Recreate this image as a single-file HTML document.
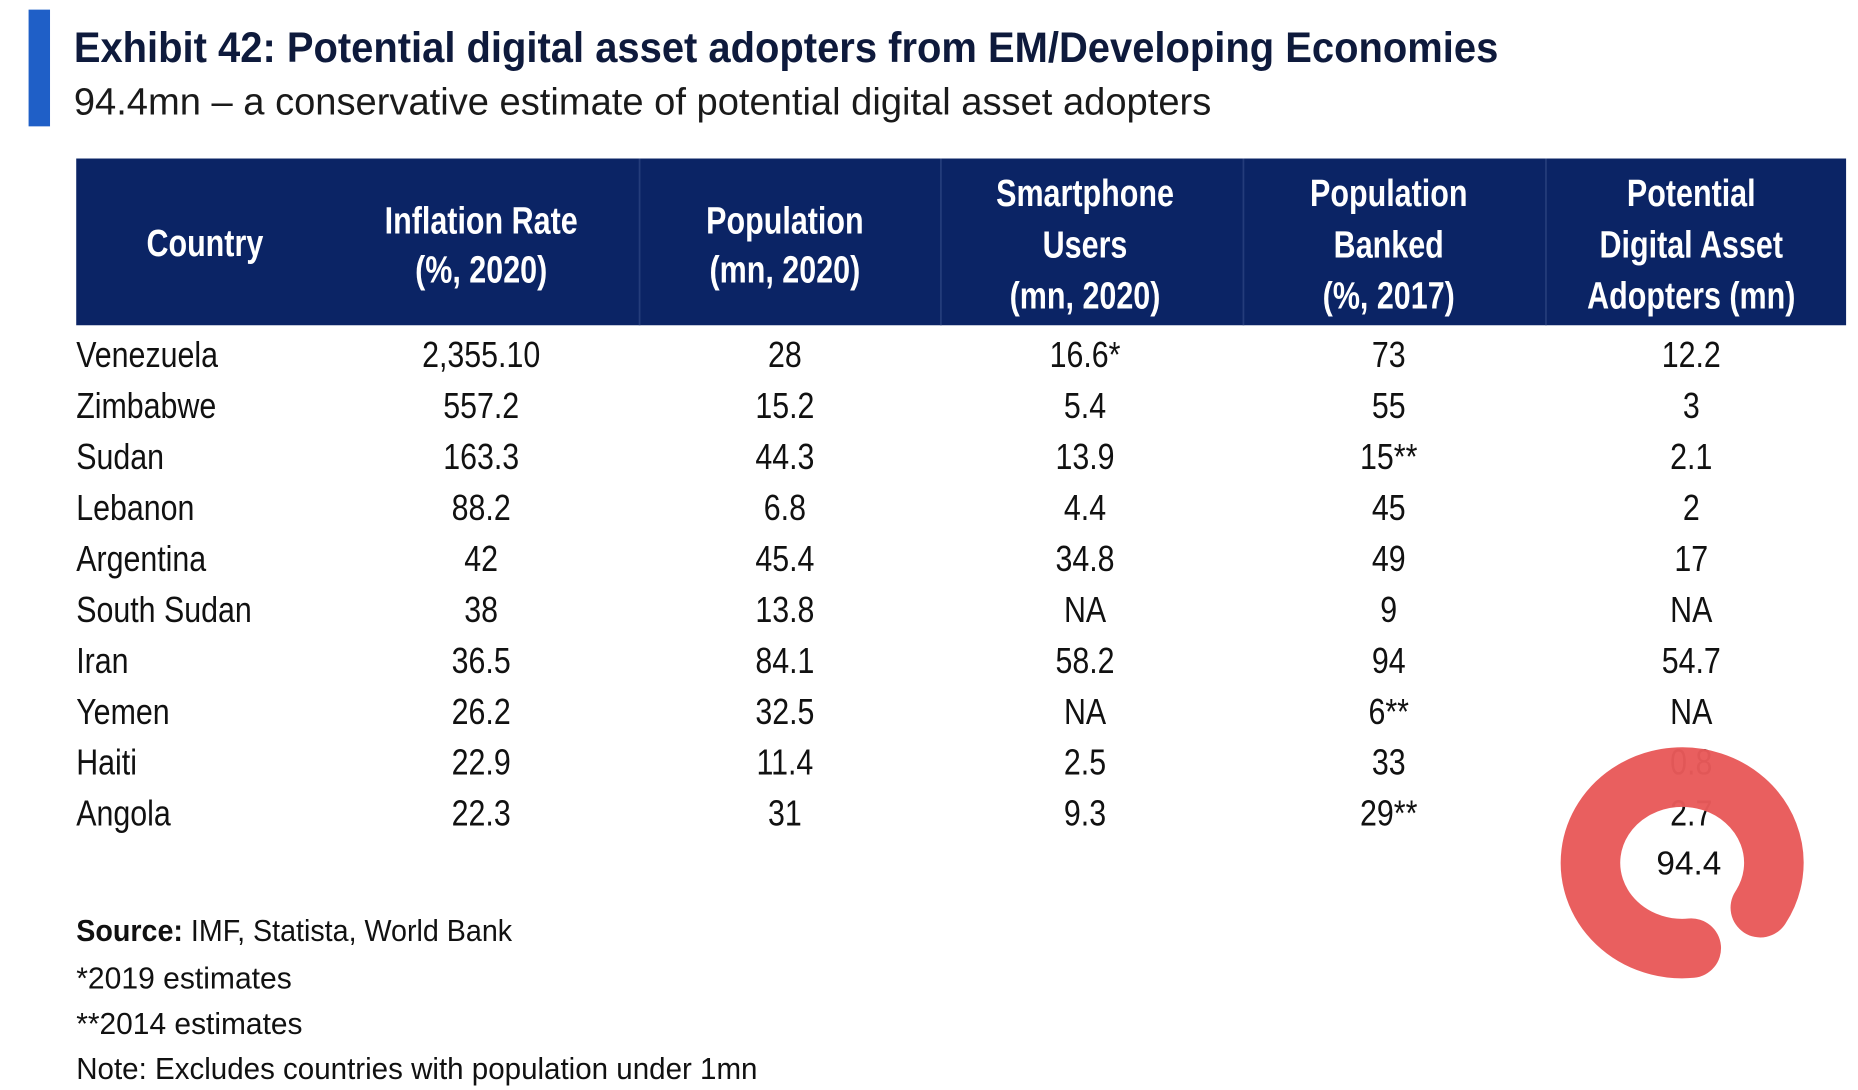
<!DOCTYPE html>
<html><head><meta charset="utf-8"><style>
html,body{margin:0;padding:0;background:#fff;}
svg{display:block;}
text{font-family:"Liberation Sans",sans-serif;}
</style></head><body>
<svg id="chart" width="1858" height="1090" viewBox="0 0 1560 915" xmlns="http://www.w3.org/2000/svg">
<rect x="24" y="8" width="18" height="98" fill="#1F5FC7"/>
<text x="62" y="52" font-size="36" font-weight="bold" fill="#0E1A3C" textLength="1196" lengthAdjust="spacingAndGlyphs">Exhibit 42: Potential digital asset adopters from EM/Developing Economies</text>
<text x="62" y="96" font-size="32" fill="#1a1a1a" textLength="955" lengthAdjust="spacingAndGlyphs">94.4mn – a conservative estimate of potential digital asset adopters</text>
<rect x="64" y="133" width="1486" height="140" fill="#0B2465"/>
<g id="hdr"></g>
<g id="rows"></g>
<g transform="translate(1418,724)"><text x="0" y="10" font-size="28" text-anchor="middle" fill="#111">94.4</text></g>
<path d="M 1478 762 A 77 72 0 1 0 1420 796" fill="none" stroke="#E85A5A" stroke-width="50" stroke-linecap="round" opacity="0.97"/>
<g>
<text x="64" y="790" font-size="26" fill="#111" textLength="366" lengthAdjust="spacingAndGlyphs"><tspan font-weight="bold">Source:</tspan> IMF, Statista, World Bank</text>
<text x="64" y="830" font-size="26" fill="#111" textLength="181" lengthAdjust="spacingAndGlyphs">*2019 estimates</text>
<text x="64" y="868" font-size="26" fill="#111" textLength="190" lengthAdjust="spacingAndGlyphs">**2014 estimates</text>
<text x="64" y="906" font-size="26" fill="#111" textLength="572" lengthAdjust="spacingAndGlyphs">Note: Excludes countries with population under 1mn</text>
</g>
</svg>
<script>
const headers = [["Country"],["Inflation Rate","(%, 2020)"],["Population","(mn, 2020)"],["Smartphone","Users","(mn, 2020)"],["Population","Banked","(%, 2017)"],["Potential","Digital Asset","Adopters (mn)"]];
const countries = ["Venezuela","Zimbabwe","Sudan","Lebanon","Argentina","South Sudan","Iran","Yemen","Haiti","Angola"];
const inflation = ["2,355.10","557.2","163.3","88.2","42","38","36.5","26.2","22.9","22.3"];
const population = ["28","15.2","44.3","6.8","45.4","13.8","84.1","32.5","11.4","31"];
const smartphone = ["16.6*","5.4","13.9","4.4","34.8","NA","58.2","NA","2.5","9.3"];
const banked = ["73","55","15**","45","49","9","94","6**","33","29**"];
const adopters = ["12.2","3","2.1","2","17","NA","54.7","NA","0.8","2.7"];

const NS = "http://www.w3.org/2000/svg";
const colX = [172,404,659,911,1166,1420];
const dividers = [537,790,1044,1298];
const hdr = document.getElementById('hdr');
dividers.forEach(x=>{
  const l=document.createElementNS(NS,'line');
  l.setAttribute('x1',x);l.setAttribute('x2',x);l.setAttribute('y1',133);l.setAttribute('y2',273);
  l.setAttribute('stroke','#243c7a');l.setAttribute('stroke-width','1.5');
  
  
  hdr.appendChild(l);
});
headers.forEach((lines,i)=>{
  const n=lines.length;
  const centers = n===1?[204]:n===2?[185,226]:[162,205,248];
  lines.forEach((t,j)=>{
    const g=document.createElementNS(NS,'g');
    g.setAttribute('transform',`translate(${colX[i]},${centers[j]+11}) scale(0.8,1)`);
    const tx=document.createElementNS(NS,'text');
    tx.setAttribute('text-anchor','middle');tx.setAttribute('font-size','32');
    tx.setAttribute('font-weight','bold');tx.setAttribute('fill','#fff');
    tx.textContent=t;
    
    
    g.appendChild(tx);hdr.appendChild(g);
  });
});
const rowsG=document.getElementById('rows');
const cols=[countries,inflation,population,smartphone,banked,adopters];
countries.forEach((c,r)=>{
  const cy = 298 + r*42.8;
  cols.forEach((arr,i)=>{
    const g=document.createElementNS(NS,'g');
    const x = i===0?64:colX[i];
    g.setAttribute('transform',`translate(${x},${cy+10}) scale(0.85,1)`);
    const tx=document.createElementNS(NS,'text');
    tx.setAttribute('text-anchor',i===0?'start':'middle');
    tx.setAttribute('font-size','30');tx.setAttribute('fill','#111');
    tx.textContent=arr[r];
    
    
    g.appendChild(tx);rowsG.appendChild(g);
  });
});
</script>
</body></html>
